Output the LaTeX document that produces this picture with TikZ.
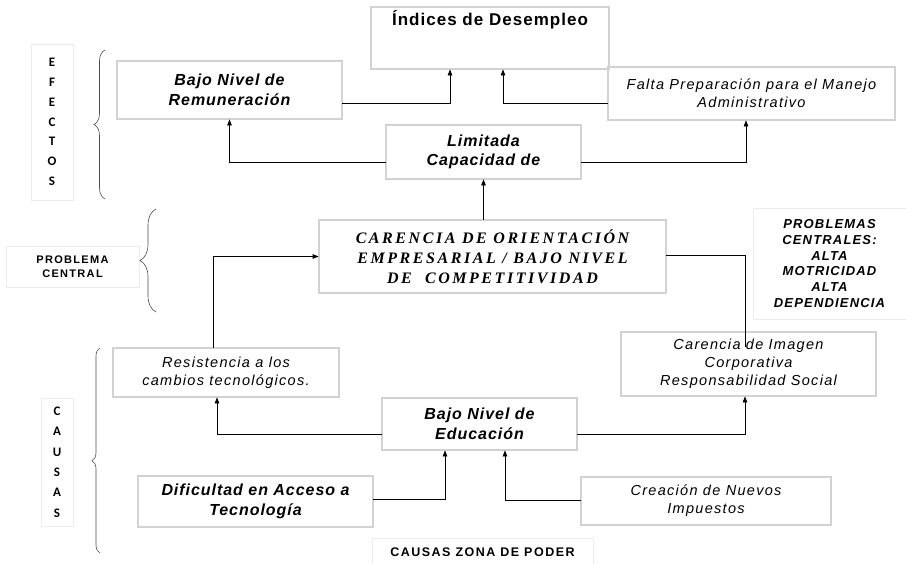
\documentclass[tikz,border=0pt]{standalone}
\usepackage{fontspec}
\setmainfont{Liberation Sans}
\newfontfamily\boxfont{Liberation Sans}[LetterSpace=6]
\newfontfamily\litefont{Liberation Sans}[LetterSpace=9]
\newfontfamily\tagfont{Liberation Sans}[LetterSpace=12]
\newfontfamily\lblfont{Carlito}
\newfontfamily\carfont{Liberation Serif}[LetterSpace=16]
\usetikzlibrary{arrows.meta,positioning,calc,decorations.pathreplacing}
\definecolor{boxGray}{RGB}{100,100,100}

\begin{document}
\begin{tikzpicture}[x=1pt,y=-1pt,
  box/.style={rectangle,draw=boxGray,double=gray!35,double distance=1.2pt,line width=0.8pt,
              align=center,inner sep=2pt,font=\boxfont\fontsize{16}{19.5}\selectfont\bfseries\itshape},
  lbox/.style={box,font=\litefont\fontsize{14.5}{18}\selectfont\itshape},
  tag/.style={rectangle,draw=gray!15,line width=0.6pt,align=center,
              font=\lblfont\bfseries\fontsize{13}{19.8}\selectfont},
  fl/.style={-{Triangle[length=6pt,width=4.5pt]},line width=0.8pt},
  ln/.style={line width=0.8pt},
  brc/.style={decorate,draw=gray!60!black,line width=0.6pt}
]
  \useasboundingbox (0,0) rectangle (906,563);

  \node[box,font=\boxfont\fontsize{17}{19}\selectfont\bfseries,minimum width=238pt,minimum height=62pt,
        inner sep=6pt,text height=12pt,text depth=38pt] (ind) at (490,38) {Índices de Desempleo};
  \node[box,minimum width=225pt,minimum height=58pt] (bajo) at (229.5,90) {Bajo Nivel de\\Remuneración};
  \node[lbox,minimum width=287pt,minimum height=53pt] (falta) at (751.5,93.5)
       {Falta Preparación para el Manejo\\Administrativo};
  \node[box,minimum width=195pt,minimum height=54pt] (lim) at (483.5,152) {Limitada\\Capacidad de};
  \node[box,font=\carfont\fontsize{16}{20}\selectfont\bfseries\itshape,minimum width=347pt,
        minimum height=73pt] (car) at (492.5,256.5)
       {CARENCIA DE ORIENTACIÓN\\EMPRESARIAL / BAJO NIVEL\\DE \ COMPETITIVIDAD};
  \node[lbox,minimum width=226pt,minimum height=49pt] (res) at (226,372.5)
       {Resistencia a los\\cambios tecnológicos.};
  \node[lbox,minimum width=255pt,minimum height=64pt] (img) at (748.5,364)
       {Carencia de Imagen\\Corporativa\\Responsabilidad Social};
  \node[box,minimum width=195pt,minimum height=52pt] (edu) at (479.5,424) {Bajo Nivel de\\Educación};
  \node[box,minimum width=235pt,minimum height=51pt] (dif) at (255.5,501.5)
       {Dificultad en Acceso a\\Tecnología};
  \node[lbox,minimum width=250pt,minimum height=48pt] (cre) at (706,501)
       {Creación de Nuevos\\Impuestos};

  \node[tag,minimum width=42pt,minimum height=156pt] (efe) at (52,122) {E\\F\\E\\C\\T\\O\\S};
  \node[tag,font=\lblfont\bfseries\fontsize{13}{20.4}\selectfont,minimum width=32pt,
        minimum height=128pt] (cau) at (57,462) {C\\A\\U\\S\\A\\S};
  \node[tag,font=\tagfont\bfseries\fontsize{11}{14}\selectfont,minimum width=133pt,
        minimum height=41pt] (pc) at (72.5,266.5) {PROBLEMA\\CENTRAL};
  \node[tag,font=\litefont\fontsize{13}{15.7}\selectfont\bfseries\itshape,minimum width=153pt,
        minimum height=111pt] (pcs) at (829.5,263.5)
       {PROBLEMAS\\CENTRALES:\\ALTA\\MOTRICIDAD\\ALTA\\DEPENDIENCIA};
  \node[tag,font=\tagfont\bfseries\fontsize{12.5}{13}\selectfont,minimum width=221pt,
        minimum height=34pt,text height=14pt,text depth=16pt] (czp) at (482.5,557) {CAUSAS ZONA DE PODER};

  \draw[brc,decoration={brace,amplitude=11pt}] (105,199) -- (105,50);
  \draw[brc,decoration={brace,amplitude=16pt}] (156,312) -- (156,209);
  \draw[brc,decoration={brace,amplitude=8pt,aspect=0.45}] (100,553) -- (100,348);

  \draw[fl] ([yshift=-13pt]bajo.east) -| ([xshift=-40pt]ind.south);
  \draw[fl] ([yshift=-9.5pt]falta.west) -| ([xshift=13pt]ind.south);
  \draw[fl] ([yshift=-10pt]lim.west) -| (bajo.south);
  \draw[fl] ([yshift=-10pt]lim.east) -| ([xshift=-5.5pt]falta.south);
  \draw[fl] (car.north -| lim.south) -- (lim.south);
  \draw[fl] ([xshift=-13pt]res.north) |- (car.west);
  \draw[ln] ([yshift=1.5pt]car.east) -| ([xshift=-3.5pt,yshift=-15pt]img.north);
  \draw[fl] ([yshift=-10pt]edu.west) -| ([xshift=-9pt]res.south);
  \draw[fl] ([yshift=-10pt]edu.east) -| ([xshift=-3.5pt]img.south);
  \draw[fl] ([yshift=2.5pt]dif.east) -| ([xshift=-34.5pt]edu.south);
  \draw[fl] ([yshift=1pt]cre.west) -| ([xshift=25.5pt]edu.south);
\end{tikzpicture}
\end{document}
